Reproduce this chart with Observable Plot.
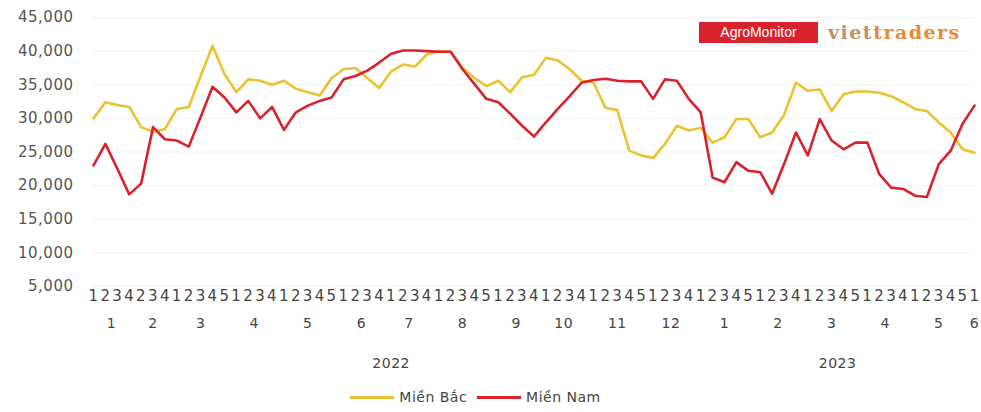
<!DOCTYPE html>
<html>
<head>
<meta charset="utf-8">
<script src="https://cdn.jsdelivr.net/npm/d3@7"></script>
<script src="https://cdn.jsdelivr.net/npm/@observablehq/plot@0.6"></script>
<style>
  html, body { margin: 0; padding: 0; background: #fff; }
  #wrap { position: relative; width: 981px; height: 412px; font-family: "DejaVu Sans", sans-serif; }
  #logo { position: absolute; left: 699px; top: 21px; display: flex; align-items: center; }
  #logo .agro { background: #d8232f; color: #fff; font-family: "Liberation Sans", Arial, sans-serif; font-size: 14px; height: 21px; line-height: 21px; padding: 0 6px; width: 107px; text-align: center; }
  #logo .vt { margin-left: 10px; font-family: "DejaVu Serif", serif; font-weight: bold; font-size: 19px; letter-spacing: 1.5px; }
  #logo .vt .a { color: #c0906a; }
  #logo .vt .b { color: #e88a3a; }
  #legend { position: absolute; left: 0; top: 380px; width: 981px; height: 34px; display: flex; justify-content: center; align-items: center; font-size: 14px; color: #444; letter-spacing: 0.5px; }
  #legend .item { display: flex; align-items: center; margin: 0 5px; }
  #legend .sw { width: 44px; height: 3px; margin-right: 5px; }
</style>
</head>
<body>
<div id="wrap">
  <div id="chart"></div>
  <div id="logo"><div class="agro">AgroMonitor</div><div class="vt"><span class="a">viet</span><span class="b">traders</span></div></div>
  <div id="legend"></div>
</div>
<script>
// Week-of-month tick labels (2022 W1 Jan .. 2023 W1 Jun)
const weekLabels = [
  "1","2","3","4",            // 2022-1
  "2","3","4",                // 2022-2
  "1","2","3","4","5",        // 2022-3
  "1","2","3","4",            // 2022-4
  "1","2","3","4","5",        // 2022-5
  "1","2","3","4",            // 2022-6
  "1","2","3","4",            // 2022-7
  "1","2","3","4","5",        // 2022-8
  "1","2","3","4",            // 2022-9
  "1","2","3","4",            // 2022-10
  "1","2","3","4","5",        // 2022-11
  "1","2","3","4",            // 2022-12
  "1","2","3","4","5",        // 2023-1
  "1","2","3","4",            // 2023-2
  "1","2","3","4","5",        // 2023-3
  "1","2","3","4",            // 2023-4
  "1","2","3","4","5",        // 2023-5
  "1"                         // 2023-6
];
const monthLabels = ["1","2","3","4","5","6","7","8","9","10","11","12","1","2","3","4","5","6"];
const weeksPerMonth = [4,3,5,4,5,4,4,5,4,4,5,4,5,4,5,4,5,1];
const yearLabels = ["2022","2023"];
const monthsPerYear = [12,6];

const seriesNames = ["Miền Bắc","Miền Nam"];
const seriesColors = ["#ebc230","#d8232f"];

const mienBac = [
  30000,32400,32000,31700,
  28700,28000,28400,
  31400,31700,36300,40800,36600,
  33900,35800,35600,35000,
  35600,34400,33900,33400,36000,
  37300,37500,36000,34500,
  37000,38000,37700,39500,
  40000,39900,37500,36000,34800,
  35600,33900,36100,36500,
  39000,38600,37300,35600,
  35300,31600,31200,25200,24500,
  24100,26200,28900,28200,
  28600,26400,27200,29900,29900,
  27200,27900,30500,35300,
  34100,34300,31100,33600,34000,
  34000,33800,33300,32400,
  31400,31100,29400,27900,25400,
  24900
];
const mienNam = [
  23000,26200,22500,18700,
  20300,28700,26900,
  26700,25800,30200,34700,33100,
  30900,32600,30000,31700,
  28300,30900,31900,32600,33100,
  35800,36300,37100,38300,
  39600,40100,40100,40000,
  39900,39900,37300,35100,32900,
  32400,30700,28900,27300,
  29400,31400,33300,35300,
  35700,35900,35600,35500,35500,
  32900,35800,35600,32900,
  30900,21200,20500,23500,22200,
  22000,18800,23200,27900,
  24500,29900,26700,25400,26400,
  26400,21700,19700,19500,
  18500,18300,23200,25200,29200,
  31900
];
const yTicks = [5000,10000,15000,20000,25000,30000,35000,40000,45000];

// derived tables
const idx = weekLabels.map((_, i) => i);
let start = 0;
const monthTable = weeksPerMonth.map((n, k) => {
  const m = {label: monthLabels[k], mid: start + (n - 1) / 2, first: start, last: start + n - 1};
  start += n; return m;
});
let mstart = 0;
const yearTable = monthsPerYear.map((n, k) => {
  const ms = monthTable.slice(mstart, mstart + n);
  mstart += n;
  return {label: yearLabels[k], mid: (ms[0].first + ms[ms.length - 1].last) / 2};
});
const rows = [];
[mienBac, mienNam].forEach((arr, s) => arr.forEach((v, i) => rows.push({i, v, s: seriesNames[s]})));

const chart = Plot.plot({
  width: 981,
  height: 380,
  marginLeft: 93,
  marginRight: 7,
  marginTop: 17,
  marginBottom: 94,
  style: {fontFamily: "DejaVu Sans, sans-serif", fontSize: "15px", color: "#444", letterSpacing: "0.5px", background: "transparent"},
  x: {domain: [0, idx.length - 1], axis: null},
  y: {domain: [5000, 45000], axis: null},
  color: {domain: seriesNames, range: seriesColors},
  marks: [
    Plot.gridY(yTicks, {stroke: "#000", strokeOpacity: 0.06}),
    Plot.axisY(yTicks, {label: null, tickSize: 0, tickPadding: 20, tickFormat: d3.format(","), fill: "#555", letterSpacing: "1px"}),
    Plot.axisX(idx, {label: null, tickSize: 0, tickPadding: 4, tickFormat: i => weekLabels[i], fill: "#444"}),
    Plot.text(monthTable, {x: "mid", text: "label", frameAnchor: "bottom", dy: 41, fill: "#444", fontSize: 14}),
    Plot.text(yearTable, {x: "mid", text: "label", frameAnchor: "bottom", dy: 81, fill: "#444", fontSize: 14}),
    Plot.line(rows, {x: "i", y: "v", z: "s", stroke: "s", strokeWidth: 2.6, strokeLinejoin: "round"})
  ]
});
document.getElementById("chart").appendChild(chart);

const legend = document.getElementById("legend");
legend.style.paddingRight = "30px";
legend.style.boxSizing = "border-box";
seriesNames.forEach((n, k) => {
  const it = document.createElement("div");
  it.className = "item";
  const sw = document.createElement("div");
  sw.className = "sw";
  sw.style.background = seriesColors[k];
  const t = document.createElement("span");
  t.textContent = n;
  it.appendChild(sw); it.appendChild(t);
  legend.appendChild(it);
});
</script>
</body>
</html>
